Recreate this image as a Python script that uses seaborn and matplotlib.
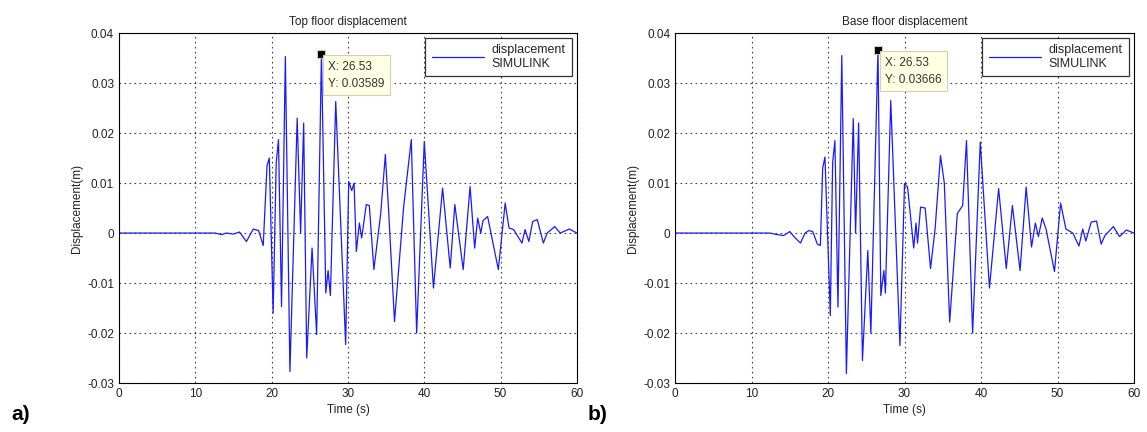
import matplotlib
matplotlib.use("Agg")
import matplotlib.pyplot as plt
import seaborn as sns
import pandas as pd

# ---- data ----
top_t = [0, 12.6, 13.4, 14.1, 15.0, 15.8, 16.7, 17.6, 18.3, 18.9, 19.4, 19.7, 20.2, 20.6, 20.9,
         21.3, 21.8, 22.4, 23.35, 23.8, 24.2, 24.6, 25.3, 25.9, 26.53, 27.1, 27.4, 27.7, 28.4,
         29.7, 30.1, 30.5, 30.8, 31.1, 31.5, 31.8, 32.4, 32.8, 33.4, 34.3, 34.9, 35.3, 36.1,
         37.3, 38.3, 39.0, 40.0, 41.2, 42.4, 43.4, 44.0, 45.1, 46.0, 46.6, 47.0, 47.4, 47.7,
         48.3, 49.0, 49.7, 50.6, 51.1, 51.7, 52.8, 53.2, 53.7, 54.2, 54.8, 55.6, 56.1, 57.1,
         57.8, 59.0, 60]
top_d = [0, 0, -0.0003, 0.0, -0.0002, 0.0002, -0.0017, 0.0008, 0.0005, -0.0025, 0.0135, 0.015,
         -0.016, 0.014, 0.0187, -0.0147, 0.0353, -0.0277, 0.023, 0.0, 0.022, -0.025, -0.003,
         -0.0203, 0.03589, -0.012, -0.0075, -0.0125, 0.0263, -0.0223, 0.0103, 0.0085, 0.010,
         -0.0037, 0.002, -0.001, 0.0057, 0.0055, -0.0073, 0.004, 0.0157, 0.0053, -0.0177,
         0.0053, 0.0187, -0.020, 0.0183, -0.011, 0.009, -0.007, 0.0057, -0.0073, 0.0093,
         -0.003, 0.003, 0.0, 0.0025, 0.0033, -0.002, -0.0073, 0.006, 0.001, 0.0007, -0.002,
         0.0007, -0.0017, 0.0023, 0.0027, -0.002, 0.0, 0.0013, 0.0, 0.0008, 0.0]

base_t = [0, 12.4, 13.3, 14.2, 15.0, 15.6, 16.4, 17.0, 17.5, 18.0, 18.6, 19.0, 19.3, 19.6, 20.3,
          20.6, 20.9, 21.3, 21.8, 22.4, 23.3, 23.6, 24.0, 24.5, 25.2, 25.6, 26.53, 26.9, 27.3,
          27.5, 28.2, 29.4, 30.0, 30.4, 31.2, 31.5, 31.7, 32.1, 32.7, 33.4, 34.0, 34.7, 35.2,
          35.9, 36.9, 37.6, 38.1, 38.9, 39.9, 41.1, 42.3, 43.3, 44.1, 45.1, 45.9, 46.6, 47.1,
          47.5, 48.0, 48.5, 49.6, 50.4, 51.1, 52.0, 52.8, 53.3, 53.7, 54.4, 55.1, 55.7, 56.2,
          57.3, 58.1, 59.0, 60]
base_d = [0, 0, -0.0003, -0.0005, 0.0003, -0.0008, -0.002, 0.0, 0.0005, 0.0003, -0.0022,
          -0.0025, 0.013, 0.0152, -0.0165, 0.014, 0.0185, -0.0148, 0.0355, -0.0281, 0.0229,
          0.0, 0.022, -0.0255, -0.0035, -0.020, 0.03666, -0.0125, -0.0075, -0.012, 0.0265,
          -0.0225, 0.0099, 0.0092, -0.003, 0.002, -0.002, 0.0052, 0.005, -0.0071, 0.0009,
          0.0155, 0.010, -0.0178, 0.0039, 0.0055, 0.0185, -0.020, 0.0182, -0.011, 0.0089,
          -0.0071, 0.0055, -0.0075, 0.0092, -0.0028, 0.002, -0.0007, 0.003, 0.0008, -0.0077,
          0.006, 0.0008, 0.0, -0.0026, 0.0008, -0.0016, 0.0022, 0.0024, -0.0022, -0.0005,
          0.0013, -0.0007, 0.0006, 0.0]

titles = ["Top floor displacement", "Base floor displacement"]
tip_x = [26.53, 26.53]
tip_y = [0.03589, 0.03666]
tip_text = ["X: 26.53\nY: 0.03589", "X: 26.53\nY: 0.03666"]
panel_labels = ["a)", "b)"]
x_ticks = [0, 10, 20, 30, 40, 50, 60]
y_ticks = [-0.03, -0.02, -0.01, 0, 0.01, 0.02, 0.03, 0.04]
y_ticklabels = ["-0.03", "-0.02", "-0.01", "0", "0.01", "0.02", "0.03", "0.04"]

sns.set_style("white")
plt.rcParams["font.family"] = ["Liberation Sans", "DejaVu Sans"]

fig = plt.figure(figsize=(11.47, 4.32), dpi=100)
axes = [fig.add_axes([0.1037, 0.1134, 0.3993, 0.810]),
        fig.add_axes([0.5885, 0.1134, 0.4002, 0.810])]

series = [(top_t, top_d), (base_t, base_d)]
for i, ax in enumerate(axes):
    t, d = series[i]
    df = pd.DataFrame({"Time (s)": t, "Displacement(m)": d})
    sns.lineplot(data=df, x="Time (s)", y="Displacement(m)", ax=ax, color="#1a1aff",
                 linewidth=0.9, sort=False, estimator=None, label="displacement\nSIMULINK")
    ax.set_xlim(0, 60)
    ax.set_ylim(-0.03, 0.04)
    ax.set_xticks(x_ticks)
    ax.set_yticks(y_ticks)
    ax.set_yticklabels(y_ticklabels)
    ax.tick_params(direction="in", length=3, width=0.6, labelsize=8.5, colors="#222222")
    ax.grid(True, color="black", linestyle=(0, (1.5, 3)), linewidth=0.8, alpha=0.75)
    for s in ax.spines.values():
        s.set_color("black")
        s.set_linewidth(0.8)
    ax.set_title(titles[i], fontsize=8.5, pad=6, color="#222222")
    ax.set_xlabel("Time (s)", fontsize=8.5, labelpad=3, color="#222222")
    ax.set_ylabel("Displacement(m)", fontsize=8.5, labelpad=3, color="#222222")
    leg = ax.legend(loc="upper right", bbox_to_anchor=(0.989, 0.986), borderaxespad=0,
                    fontsize=9, frameon=True, fancybox=False, handlelength=4.2,
                    borderpad=0.5, handletextpad=0.6)
    leg.get_frame().set_edgecolor("black")
    leg.get_frame().set_linewidth(0.9)
    ax.plot([tip_x[i]], [tip_y[i]], marker="s", markersize=6, color="black",
            markeredgecolor="#e8e0a0", markeredgewidth=0.6, zorder=5)
    ax.text(tip_x[i] + 0.9, tip_y[i] - 0.0014, tip_text[i], fontsize=8.5, color="#333333",
            ha="left", va="top", linespacing=1.55, zorder=6,
            bbox=dict(boxstyle="square,pad=0.45", facecolor="#ffffe4", edgecolor="#d0d0b8",
                      linewidth=0.8))

fig.text(0.010, 0.028, panel_labels[0], fontsize=15, fontweight="bold", color="black")
fig.text(0.512, 0.028, panel_labels[1], fontsize=15, fontweight="bold", color="black")

fig.savefig("out.png", dpi=100, facecolor="white")
